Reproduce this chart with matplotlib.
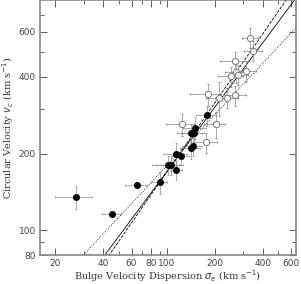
import matplotlib
matplotlib.use("Agg")
import matplotlib.pyplot as plt
import numpy as np
from matplotlib.ticker import FixedLocator, NullFormatter

# open circles
open_sigma = [334, 349, 269, 273, 254, 281, 315, 180, 211, 240, 269, 124, 202, 175]
open_v     = [569, 506, 462, 419, 401, 408, 423, 341, 331, 331, 338, 260, 260, 221]
open_sigerr = [40, 45, 55, 40, 45, 40, 45, 40, 35, 40, 45, 25, 30, 30]
open_verr   = [50, 45, 40, 40, 35, 35, 40, 35, 50, 30, 30, 25, 30, 20]

# filled circles
fill_sigma = [178, 151, 141, 147, 141, 145, 114, 122, 101, 106, 114, 90, 27, 45.4, 65]
fill_v     = [282, 253, 240, 240, 211, 215, 199, 195, 180, 180, 172, 154, 135, 116, 150]
fill_sigerr = [25, 25, 25, 25, 20, 20, 20, 15, 20, 20, 10, 10, 7, 6, 10]
fill_verr   = [25, 25, 20, 20, 20, 20, 20, 15, 15, 15, 15, 15, 14, 3, 3]

# fit lines: log v = a log sigma + b
line_a = [0.84, 0.90, 0.668]
line_b = [0.55, 0.429, 0.917]
line_styles = ['-', '--', ':']

xticks = [20, 40, 60, 80, 100, 200, 400, 600]
yticks = [80, 100, 200, 400, 600]
xminor = [30, 50, 70, 90, 300, 500]
yminor = [90, 300, 500, 700]

fig = plt.figure(figsize=(3.01, 2.84), dpi=100)
ax = fig.add_axes([0.133, 0.102, 0.850, 0.898])
ax.set_xscale('log')
ax.set_yscale('log')
ax.set_xlim(16, 645)
ax.set_ylim(80, 800)

xs = np.logspace(np.log10(16), np.log10(645), 200)
for a, b, ls in zip(line_a, line_b, line_styles):
    ax.plot(xs, 10 ** (a * np.log10(xs) + b), color='black', lw=0.6, ls=ls, zorder=2)

ax.errorbar(open_sigma, open_v, xerr=open_sigerr, yerr=open_verr, fmt='o',
            mfc='white', mec='#777777', mew=0.7, ms=4.5, ecolor='#888888',
            elinewidth=0.5, capsize=1.0, capthick=0.5, zorder=3)
ax.errorbar(fill_sigma, fill_v, xerr=fill_sigerr, yerr=fill_verr, fmt='o',
            mfc='black', mec='black', ms=4, ecolor='#888888',
            elinewidth=0.5, capsize=1.0, capthick=0.5, zorder=4)

ax.xaxis.set_major_locator(FixedLocator(xticks))
ax.xaxis.set_minor_locator(FixedLocator(xminor))
ax.yaxis.set_major_locator(FixedLocator(yticks))
ax.yaxis.set_minor_locator(FixedLocator(yminor))
ax.set_xticklabels([str(t) for t in xticks])
ax.set_yticklabels([str(t) for t in yticks])
ax.xaxis.set_minor_formatter(NullFormatter())
ax.yaxis.set_minor_formatter(NullFormatter())
ax.tick_params(which='both', direction='in', top=True, right=True,
               labelsize=6.5, colors='#444444', width=0.6, pad=3)
ax.tick_params(axis='x', which='both', pad=2.5)
ax.tick_params(which='major', length=5)
ax.tick_params(which='minor', length=3)
for s in ax.spines.values():
    s.set_color('#888888')
    s.set_linewidth(1.2)

ax.set_xlabel(r'Bulge Velocity Dispersion $\sigma_e$ (km s$^{-1}$)',
              family='DejaVu Serif', fontsize=7, color='#333333', labelpad=0.5)
ax.set_ylabel(r'Circular Velocity $v_c$ (km s$^{-1}$)',
              family='DejaVu Serif', fontsize=7, color='#333333', labelpad=2)

fig.savefig('out.png', dpi=100)
